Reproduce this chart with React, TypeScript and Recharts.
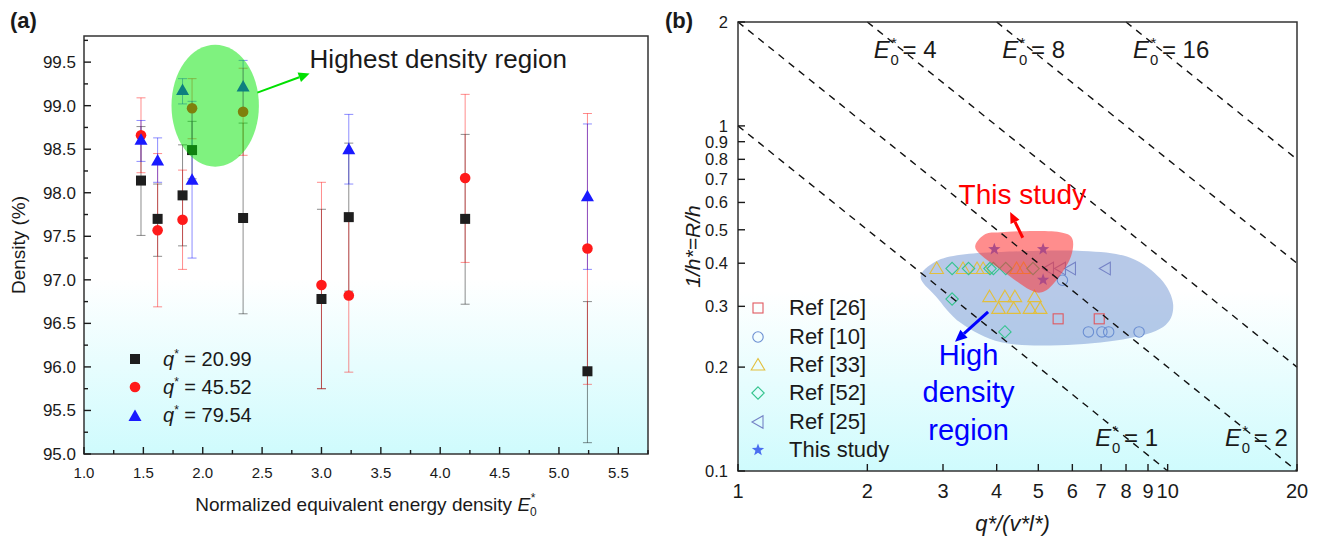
import React from "react";
import {
  ScatterChart,
  Scatter,
  XAxis,
  YAxis,
  ErrorBar,
  ReferenceArea,
  ReferenceLine,
  ReferenceDot,
  Legend,
  CartesianGrid,
  Label,
} from "recharts";

const FONT = '"Liberation Sans", Arial, Helvetica, sans-serif';
const INK = "#1a1a1a";

// ---------- panel (a): density vs normalized energy density ----------
const energyAll = [1.48, 1.62, 1.83, 1.91, 2.34, 3.0, 3.23, 4.21, 5.24];
const energyQ80 = [1.48, 1.62, 1.83, 1.91, 2.34, 3.23, 5.24];

const densityQ21 = [98.14, 97.7, 97.97, 98.49, 97.71, 96.78, 97.72, 97.7, 95.95];
const lowQ21 = [97.51, 97.27, 97.39, 98.16, 96.61, 95.75, 96.87, 96.72, 95.13];
const highQ21 = [98.76, 98.1, 98.55, 98.82, 98.8, 97.81, 98.57, 98.67, 96.75];

const densityQ46 = [98.66, 97.57, 97.69, 98.97, 98.93, 96.94, 96.82, 98.17, 97.36];
const lowQ46 = [98.23, 96.69, 97.12, 98.62, 98.43, 95.75, 95.94, 97.2, 95.8];
const highQ46 = [99.09, 98.45, 98.26, 99.31, 99.43, 98.12, 97.68, 99.13, 98.91];

const densityQ80 = [98.61, 98.37, 99.18, 98.15, 99.22, 98.5, 97.96];
const lowQ80 = [98.36, 98.12, 99.02, 97.25, 98.92, 98.1, 97.12];
const highQ80 = [98.83, 98.63, 99.31, 99.05, 99.52, 98.9, 98.79];

const qLabels = ["20.99", "45.52", "79.54"];

const xTicksA = [
  1, 1.25, 1.5, 1.75, 2, 2.25, 2.5, 2.75, 3, 3.25, 3.5, 3.75, 4, 4.25, 4.5,
  4.75, 5, 5.25, 5.5, 5.75,
];
const yTicksA = [
  95, 95.25, 95.5, 95.75, 96, 96.25, 96.5, 96.75, 97, 97.25, 97.5, 97.75, 98,
  98.25, 98.5, 98.75, 99, 99.25, 99.5, 99.75,
];

// ---------- panel (b): process map ----------
const ref26Q = [5.56, 6.93];
const ref26H = [0.276, 0.276];
const ref10Q = [5.69, 6.54, 7.03, 7.29, 8.58];
const ref10H = [0.357, 0.253, 0.253, 0.253, 0.253];
const ref33Q = [2.9, 3.34, 3.6, 3.72, 4.45, 4.62, 3.85, 4.18, 4.41, 4.9, 4.04, 4.38, 4.78, 5.05];
const ref33H = [0.386, 0.386, 0.386, 0.386, 0.386, 0.386, 0.32, 0.32, 0.32, 0.32, 0.296, 0.296, 0.296, 0.296];
const ref52Q = [3.15, 3.44, 3.86, 3.93, 4.2, 4.86, 3.15, 4.18];
const ref52H = [0.386, 0.386, 0.386, 0.386, 0.386, 0.386, 0.315, 0.253];
const ref25Q = [5.28, 5.63, 5.94, 7.16];
const ref25H = [0.386, 0.386, 0.386, 0.386];
const studyQ = [3.95, 5.13, 5.13];
const studyH = [0.439, 0.439, 0.358];

const energyLevels = [1, 2, 4, 8, 16];
const xTicksB = [1, 2, 3, 4, 5, 6, 7, 8, 9, 10, 20];
const yTicksB = [0.1, 0.2, 0.3, 0.4, 0.5, 0.6, 0.7, 0.8, 0.9, 1, 2];

// outlines of the shaded regions, normalised to their bounding box
const blueRegionOutline = [
  [0.0, 0.28], [0.06, 0.12], [0.16, 0.05], [0.32, 0.02], [0.64, 0.01], [0.83, 0.08],
  [0.95, 0.3], [1.0, 0.57], [0.96, 0.8], [0.8, 0.93], [0.55, 0.99], [0.32, 0.96],
  [0.16, 0.76], [0.06, 0.48],
];
const redRegionOutline = [
  [0.02, 0.23], [0.12, 0.05], [0.27, 0.02], [0.6, 0.0], [0.86, 0.02], [0.98, 0.12],
  [0.97, 0.4], [0.86, 0.72], [0.71, 0.97], [0.56, 0.95], [0.27, 0.62], [0.07, 0.38],
];

const withErr = (xs: number[], ys: number[], lo: number[], hi: number[]) =>
  xs.map((x, i) => ({ x, y: ys[i], err: [ys[i] - lo[i], hi[i] - ys[i]] }));
const pts = (xs: number[], ys: number[]) => xs.map((x, i) => ({ x, y: ys[i] }));

const seriesQ21 = withErr(energyAll, densityQ21, lowQ21, highQ21);
const seriesQ46 = withErr(energyAll, densityQ46, lowQ46, highQ46);
const seriesQ80 = withErr(energyQ80, densityQ80, lowQ80, highQ80);

function smoothPath(outline: number[][], x: number, y: number, w: number, h: number) {
  const P = outline.map(([u, v]) => [x + u * w, y + v * h]);
  const n = P.length;
  let d = `M${P[0][0]},${P[0][1]}`;
  for (let i = 0; i < n; i++) {
    const p0 = P[(i - 1 + n) % n];
    const p1 = P[i];
    const p2 = P[(i + 1) % n];
    const p3 = P[(i + 2) % n];
    const c1 = [p1[0] + (p2[0] - p0[0]) / 6, p1[1] + (p2[1] - p0[1]) / 6];
    const c2 = [p2[0] - (p3[0] - p1[0]) / 6, p2[1] - (p3[1] - p1[1]) / 6];
    d += ` C${c1[0]},${c1[1]} ${c2[0]},${c2[1]} ${p2[0]},${p2[1]}`;
  }
  return d + "Z";
}

const starPoints = (cx: number, cy: number, R: number, r: number) =>
  Array.from({ length: 10 }, (_, i) => {
    const a = -Math.PI / 2 + (i * Math.PI) / 5;
    const rad = i % 2 === 0 ? R : r;
    return `${cx + rad * Math.cos(a)},${cy + rad * Math.sin(a)}`;
  }).join(" ");

type Kind = "square" | "circle" | "triangle" | "diamond" | "left" | "star";

function Marker({ kind, cx, cy, color }: { kind: Kind; cx: number; cy: number; color: string }) {
  const sw = 1.1;
  switch (kind) {
    case "square":
      return <rect x={cx - 5} y={cy - 5} width={10} height={10} fill="none" stroke={color} strokeWidth={sw} />;
    case "circle":
      return <circle cx={cx} cy={cy} r={5.2} fill="none" stroke={color} strokeWidth={sw} />;
    case "triangle":
      return (
        <polygon
          points={`${cx},${cy - 6.5} ${cx + 6.8},${cy + 5} ${cx - 6.8},${cy + 5}`}
          fill="none"
          stroke={color}
          strokeWidth={sw}
        />
      );
    case "diamond":
      return (
        <polygon
          points={`${cx},${cy - 6.2} ${cx + 6.2},${cy} ${cx},${cy + 6.2} ${cx - 6.2},${cy}`}
          fill="none"
          stroke={color}
          strokeWidth={sw}
        />
      );
    case "left":
      return (
        <polygon
          points={`${cx - 6},${cy} ${cx + 5},${cy - 6.3} ${cx + 5},${cy + 6.3}`}
          fill="none"
          stroke={color}
          strokeWidth={sw}
        />
      );
    default:
      return <polygon points={starPoints(cx, cy, 6.5, 2.7)} fill={color} />;
  }
}

const refSeries: { name: string; kind: Kind; color: string; data: { x: number; y: number }[] }[] = [
  { name: "Ref [26]", kind: "square", color: "#e0585f", data: pts(ref26Q, ref26H) },
  { name: "Ref [10]", kind: "circle", color: "#6b8fd2", data: pts(ref10Q, ref10H) },
  { name: "Ref [33]", kind: "triangle", color: "#e2bf3c", data: pts(ref33Q, ref33H) },
  { name: "Ref [52]", kind: "diamond", color: "#34c48e", data: pts(ref52Q, ref52H) },
  { name: "Ref [25]", kind: "left", color: "#7583c6", data: pts(ref25Q, ref25H) },
  { name: "This study", kind: "star", color: "#4a6ef0", data: pts(studyQ, studyH) },
];

// ---------- ticks ----------
const TickAX = (p: any) => {
  const v = p.payload.value as number;
  const major = Math.abs(v * 2 - Math.round(v * 2)) < 1e-6;
  return (
    <g>
      <line x1={p.x} y1={p.y} x2={p.x} y2={p.y - (major ? 7 : 4)} stroke={INK} strokeWidth={1.4} />
      {major && (
        <text x={p.x} y={p.y + 24} textAnchor="middle" fontSize={15} fontFamily={FONT} fill={INK}>
          {v.toFixed(1)}
        </text>
      )}
    </g>
  );
};

const TickAY = (p: any) => {
  const v = p.payload.value as number;
  const major = Math.abs(v * 2 - Math.round(v * 2)) < 1e-6;
  return (
    <g>
      <line x1={p.x} y1={p.y} x2={p.x + (major ? 7 : 4)} y2={p.y} stroke={INK} strokeWidth={1.4} />
      {major && (
        <text x={p.x - 8} y={p.y + 6} textAnchor="end" fontSize={17} fontFamily={FONT} fill={INK}>
          {v.toFixed(1)}
        </text>
      )}
    </g>
  );
};

const TickBX = (p: any) => (
  <g>
    <line x1={p.x} y1={p.y} x2={p.x} y2={p.y - 7} stroke={INK} strokeWidth={1.4} />
    <text x={p.x} y={p.y + 27} textAnchor="middle" fontSize={20} fontFamily={FONT} fill={INK}>
      {p.payload.value}
    </text>
  </g>
);

const TickBTop = (p: any) => (
  <line x1={p.x} y1={p.y} x2={p.x} y2={p.y + 7} stroke={INK} strokeWidth={1.4} />
);

const TickBY = (p: any) => (
  <g>
    <line x1={p.x} y1={p.y} x2={p.x + 7} y2={p.y} stroke={INK} strokeWidth={1.4} />
    <text x={p.x - 10} y={p.y + 6} textAnchor="end" fontSize={16.5} fontFamily={FONT} fill={INK}>
      {p.payload.value}
    </text>
  </g>
);

// ---------- annotation helpers ----------
const arrowShape = (color: string, width: number, head: number) => (p: any) => {
  const { x1, y1, x2, y2 } = p;
  const a = Math.atan2(y2 - y1, x2 - x1);
  const bx = x2 - head * Math.cos(a);
  const by = y2 - head * Math.sin(a);
  const w = head * 0.45;
  return (
    <g>
      <line x1={x1} y1={y1} x2={bx} y2={by} stroke={color} strokeWidth={width} />
      <polygon
        points={`${x2},${y2} ${bx + w * Math.sin(a)},${by - w * Math.cos(a)} ${bx - w * Math.sin(a)},${by + w * Math.cos(a)}`}
        fill={color}
      />
    </g>
  );
};

const E0Text = ({ x, y, value, size }: { x: number; y: number; value: string; size: number }) => (
  <g fontFamily={FONT} fill={INK}>
    <text x={x} y={y} fontSize={size} fontStyle="italic">E</text>
    <text x={x + size * 0.7} y={y + size * 0.28} fontSize={size * 0.62}>0</text>
    <text x={x + size * 0.72} y={y - size * 0.42} fontSize={size * 0.62}>*</text>
    <text x={x + size * 1.2} y={y} fontSize={size}>= {value}</text>
  </g>
);

const eLabels = [
  { e: "4", x: 2.07, y: 1.574 },
  { e: "8", x: 4.12, y: 1.574 },
  { e: "16", x: 8.31, y: 1.574 },
  { e: "1", x: 6.78, y: 0.118 },
  { e: "2", x: 13.6, y: 0.118 },
];

const energySegment = (e: number) => {
  const start = e / 2 < 1 ? { x: 1, y: e } : { x: e / 2, y: 2 };
  const end = e * 10 > 20 ? { x: 20, y: e / 20 } : { x: e * 10, y: 0.1 };
  return [start, end];
};

// ---------- legends ----------
const LegendA = () => {
  const icons = [
    <rect key="s" x={5} y={5} width={10} height={10} fill="#1e1e1e" />,
    <circle key="c" cx={10} cy={10} r={5.3} fill="#ff1a1a" />,
    <polygon key="t" points="10,3.5 16.5,15 3.5,15" fill="#1a1aff" />,
  ];
  return (
    <div style={{ fontFamily: FONT, fontSize: 20, color: INK }}>
      {qLabels.map((q, i) => (
        <div key={q} style={{ display: "flex", alignItems: "center", height: 28.3 }}>
          <svg width={20} height={20}>{icons[i]}</svg>
          <span style={{ marginLeft: 18, whiteSpace: "nowrap" }}>
            <i>q</i>
            <span style={{ fontSize: 12, verticalAlign: "8px", lineHeight: 0 }}>*</span> = {q}
          </span>
        </div>
      ))}
    </div>
  );
};

const LegendB = () => (
  <div style={{ fontFamily: FONT, fontSize: 22, color: INK }}>
    {refSeries.map((s) => (
      <div key={s.name} style={{ display: "flex", alignItems: "center", height: 28.4 }}>
        <svg width={20} height={20}>
          <Marker kind={s.kind} cx={10} cy={10} color={s.color} />
        </svg>
        <span style={{ marginLeft: 21, whiteSpace: "nowrap" }}>{s.name}</span>
      </div>
    ))}
  </div>
);

// ---------- panels ----------
function PanelA() {
  return (
    <ScatterChart width={660} height={541} margin={{ top: 36, right: 12, bottom: 57, left: 0 }}>
      <defs>
        <linearGradient id="bgA" x1="0" y1="0" x2="0" y2="1">
          <stop offset="0.58" stopColor="#ffffff" />
          <stop offset="1" stopColor="#cffbfd" />
        </linearGradient>
      </defs>
      <CartesianGrid horizontal={false} vertical={false} fill="url(#bgA)" />
      <XAxis
        type="number"
        dataKey="x"
        domain={[1, 5.75]}
        ticks={xTicksA}
        interval={0}
        allowDataOverflow
        height={30}
        axisLine={false}
        tickLine={false}
        tickSize={0}
        tickMargin={0}
        tick={TickAX}
      >
        <Label
          content={({ viewBox }: any) => {
            const cx = viewBox.x + viewBox.width / 2;
            return (
              <text x={cx} y={viewBox.y + 57} textAnchor="middle" fontSize={19} fontFamily={FONT} fill={INK}>
                Normalized equivalent energy density <tspan fontStyle="italic">E</tspan>
                <tspan fontSize={12} dy={5}>0</tspan>
                <tspan fontSize={12} dx={-6} dy={-14}>*</tspan>
              </text>
            );
          }}
        />
      </XAxis>
      <YAxis
        type="number"
        dataKey="y"
        domain={[95, 99.8]}
        ticks={yTicksA}
        interval={0}
        allowDataOverflow
        width={84}
        axisLine={false}
        tickLine={false}
        tickSize={0}
        tickMargin={0}
        tick={TickAY}
      >
        <Label
          content={({ viewBox }: any) => {
            const cy = viewBox.y + viewBox.height / 2;
            return (
              <text
                x={25}
                y={cy}
                transform={`rotate(-90, 25, ${cy})`}
                textAnchor="middle"
                fontSize={19}
                fontFamily={FONT}
                fill={INK}
              >
                Density (%)
              </text>
            );
          }}
        />
      </YAxis>
      <Scatter data={seriesQ21} isAnimationActive={false} shape={(p: any) => <rect x={p.cx - 5} y={p.cy - 5} width={10} height={10} fill="#1e1e1e" />}>
        <ErrorBar dataKey="err" direction="y" width={4.5} stroke="#000" strokeOpacity={0.45} strokeWidth={1} />
      </Scatter>
      <Scatter data={seriesQ46} isAnimationActive={false} shape={(p: any) => <circle cx={p.cx} cy={p.cy} r={5.3} fill="#ff1a1a" />}>
        <ErrorBar dataKey="err" direction="y" width={4.5} stroke="#ff0000" strokeOpacity={0.45} strokeWidth={1} />
      </Scatter>
      <Scatter
        data={seriesQ80}
        isAnimationActive={false}
        shape={(p: any) => <polygon points={`${p.cx},${p.cy - 6.5} ${p.cx + 6.5},${p.cy + 5} ${p.cx - 6.5},${p.cy + 5}`} fill="#1a1aff" />}
      >
        <ErrorBar dataKey="err" direction="y" width={4.5} stroke="#0000ff" strokeOpacity={0.45} strokeWidth={1} />
      </Scatter>
      <ReferenceArea
        x1={1.737}
        x2={2.473}
        y1={98.3}
        y2={99.7}
        zIndex={700}
        shape={(p: any) => (
          <ellipse cx={p.x + p.width / 2} cy={p.y + p.height / 2} rx={p.width / 2} ry={p.height / 2} fill="#00e600" fillOpacity={0.5} />
        )}
      />
      <ReferenceLine
        segment={[{ x: 2.46, y: 99.15 }, { x: 2.9, y: 99.37 }]}
        ifOverflow="visible"
        zIndex={800}
        shape={arrowShape("#00e000", 2, 11)}
      />
      <ReferenceDot
        x={2.9}
        y={99.43}
        r={1}
        ifOverflow="visible"
        zIndex={800}
        shape={(p: any) => (
          <text x={p.cx} y={p.cy} fontSize={26} fontFamily={FONT} fill={INK}>
            Highest density region
          </text>
        )}
      />
      <ReferenceArea x1={1} x2={5.75} y1={95} y2={99.8} ifOverflow="visible" zIndex={900} fill="none" stroke="#333" strokeWidth={1.5} />
      <Legend
        layout="vertical"
        align="center"
        verticalAlign="middle"
        wrapperStyle={{ left: 125, top: 345, width: 200 }}
        content={() => <LegendA />}
      />
    </ScatterChart>
  );
}

function PanelB() {
  return (
    <ScatterChart width={660} height={541} margin={{ top: 22, right: 23, bottom: 40, left: 0 }}>
      <defs>
        <linearGradient id="bgB" x1="0" y1="0" x2="0" y2="1">
          <stop offset="0.6" stopColor="#ffffff" />
          <stop offset="1" stopColor="#cffbfd" />
        </linearGradient>
      </defs>
      <CartesianGrid horizontal={false} vertical={false} fill="url(#bgB)" />
      <XAxis
        type="number"
        dataKey="x"
        scale="log"
        domain={[1, 20]}
        ticks={xTicksB}
        interval={0}
        allowDataOverflow
        height={30}
        axisLine={false}
        tickLine={false}
        tickSize={0}
        tickMargin={0}
        tick={TickBX}
      >
        <Label
          content={({ viewBox }: any) => (
            <text x={viewBox.x + viewBox.width / 2 - 5} y={viewBox.y + 60} textAnchor="middle" fontSize={22} fontStyle="italic" fontFamily={FONT} fill={INK}>
              q*/(v*l*)
            </text>
          )}
        />
      </XAxis>
      <XAxis
        xAxisId="top"
        orientation="top"
        type="number"
        scale="log"
        domain={[1, 20]}
        ticks={xTicksB}
        interval={0}
        allowDataOverflow
        height={0}
        axisLine={false}
        tickLine={false}
        tickSize={0}
        tickMargin={0}
        tick={TickBTop}
      />
      <YAxis
        type="number"
        dataKey="y"
        scale="log"
        domain={[0.1, 2]}
        ticks={yTicksB}
        interval={0}
        allowDataOverflow
        width={78}
        axisLine={false}
        tickLine={false}
        tickSize={0}
        tickMargin={0}
        tick={TickBY}
      >
        <Label
          content={({ viewBox }: any) => {
            const cy = viewBox.y + viewBox.height / 2;
            return (
              <text
                x={40}
                y={cy}
                transform={`rotate(-90, 40, ${cy})`}
                textAnchor="middle"
                fontSize={21}
                fontStyle="italic"
                fontFamily={FONT}
                fill={INK}
              >
                1/h*=R/h
              </text>
            );
          }}
        />
      </YAxis>
      <ReferenceArea
        x1={2.66}
        x2={10.3}
        y1={0.23}
        y2={0.437}
        zIndex={-50}
        shape={(p: any) => (
          <path d={smoothPath(blueRegionOutline, p.x, p.y, p.width, p.height)} fill="#7b9cd6" fillOpacity={0.55} />
        )}
      />
      {refSeries.map((s) => (
        <Scatter
          key={s.name}
          name={s.name}
          data={s.data}
          isAnimationActive={false}
          shape={(p: any) => <Marker kind={s.kind} cx={p.cx} cy={p.cy} color={s.color} />}
        />
      ))}
      <ReferenceArea
        x1={3.53}
        x2={6.06}
        y1={0.328}
        y2={0.496}
        zIndex={700}
        shape={(p: any) => (
          <path d={smoothPath(redRegionOutline, p.x, p.y, p.width, p.height)} fill="#ff3030" fillOpacity={0.55} />
        )}
      />
      {energyLevels.map((e) => (
        <ReferenceLine
          key={e}
          segment={energySegment(e)}
          ifOverflow="visible"
          zIndex={750}
          stroke="#111"
          strokeWidth={1.4}
          strokeDasharray="7 6"
        />
      ))}
      <ReferenceLine
        segment={[{ x: 4.6, y: 0.474 }, { x: 4.3, y: 0.563 }]}
        ifOverflow="visible"
        zIndex={800}
        shape={arrowShape("#ff0000", 3, 11)}
      />
      <ReferenceLine
        segment={[{ x: 3.82, y: 0.289 }, { x: 3.2, y: 0.237 }]}
        ifOverflow="visible"
        zIndex={800}
        shape={arrowShape("#0000ff", 3, 12)}
      />
      <ReferenceDot
        x={4.59}
        y={0.594}
        r={1}
        ifOverflow="visible"
        zIndex={800}
        shape={(p: any) => (
          <text x={p.cx} y={p.cy} textAnchor="middle" fontSize={28} fontFamily={FONT} fill="#ff0000">
            This study
          </text>
        )}
      />
      <ReferenceDot
        x={3.44}
        y={0.203}
        r={1}
        ifOverflow="visible"
        zIndex={800}
        shape={(p: any) => (
          <text x={p.cx} y={p.cy} textAnchor="middle" fontSize={29} fontFamily={FONT} fill="#0000ff">
            <tspan x={p.cx}>High</tspan>
            <tspan x={p.cx} dy={37}>density</tspan>
            <tspan x={p.cx} dy={38}>region</tspan>
          </text>
        )}
      />
      {eLabels.map((l) => (
        <ReferenceDot
          key={l.e}
          x={l.x}
          y={l.y}
          r={1}
          ifOverflow="visible"
          zIndex={800}
          shape={(p: any) => <E0Text x={p.cx} y={p.cy} value={l.e} size={24} />}
        />
      ))}
      <ReferenceArea x1={1} x2={20} y1={0.1} y2={2} ifOverflow="visible" zIndex={900} fill="none" stroke="#333" strokeWidth={1.5} />
      <Legend
        layout="vertical"
        align="center"
        verticalAlign="middle"
        wrapperStyle={{ left: 88, top: 294, width: 200 }}
        content={() => <LegendB />}
      />
    </ScatterChart>
  );
}

export default function App() {
  return (
    <div style={{ position: "absolute", left: 0, top: 0, width: 1320, height: 541, background: "#fff", fontFamily: FONT }}>
      <div style={{ position: "absolute", left: 0, top: 0 }}>
        <PanelA />
      </div>
      <div style={{ position: "absolute", left: 660, top: 0 }}>
        <PanelB />
      </div>
      <div style={{ position: "absolute", left: 10, top: 8, fontSize: 22, fontWeight: "bold", color: INK }}>(a)</div>
      <div style={{ position: "absolute", left: 665, top: 8, fontSize: 22, fontWeight: "bold", color: INK }}>(b)</div>
    </div>
  );
}
